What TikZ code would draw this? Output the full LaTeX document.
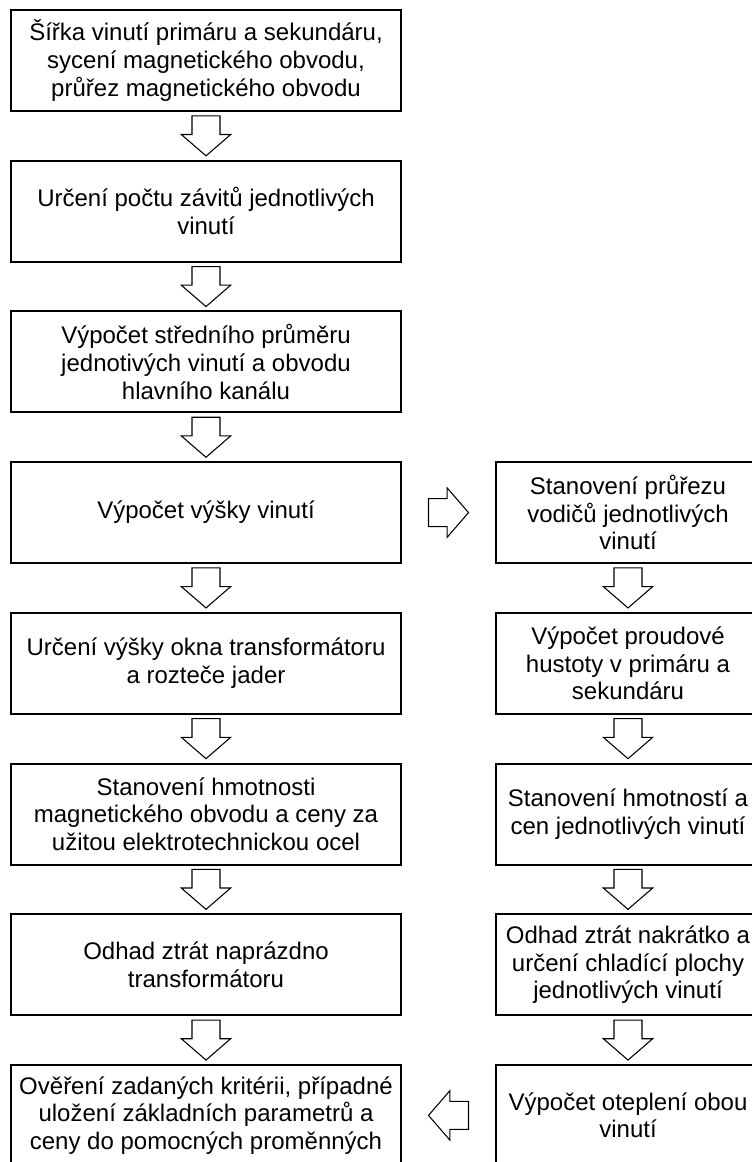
\documentclass[tikz,border=0pt]{standalone}
\usepackage{fontspec}
\setmainfont{Liberation Sans}
\usetikzlibrary{calc}

\tikzset{
  flowbox/.style={draw, line width=1.5pt, align=center, inner sep=0pt,
    minimum width=292.5pt, minimum height=75.75pt,
    font=\fontsize{18pt}{20.7pt}\selectfont},
  sidebox/.style={flowbox, minimum width=198pt},
  blockarrow/.style={draw, line width=0.8pt, fill=white, line join=miter}
}

% hollow block arrow centred between two anchors
\newcommand{\flowarrow}[2]{%
  \coordinate (fm) at ($(#1)!0.5!(#2)$);
  \coordinate (fa) at ($(fm)!15pt!(#1)$);
  \coordinate (fb) at ($(fm)!15pt!(#2)$);
  \coordinate (fh) at ($(fb)!16pt!(fa)$);
  \draw[blockarrow] ($(fa)!10.5pt!90:(fb)$) -- ($(fh)!10.5pt!90:(fb)$)
    -- ($(fh)!18.5pt!90:(fb)$) -- (fb) -- ($(fh)!18.5pt!-90:(fb)$)
    -- ($(fh)!10.5pt!-90:(fb)$) -- ($(fa)!10.5pt!-90:(fb)$) -- cycle;
}

\begin{document}
\begin{tikzpicture}[x=0.75pt,y=-0.75pt]
\useasboundingbox (0,0) rectangle (752,1162);
\foreach \txt [count=\i] in {
    {Šířka vinutí primáru a sekundáru,\\sycení magnetického obvodu,\\průřez magnetického obvodu},
    {Určení počtu závitů jednotlivých\\vinutí},
    {Výpočet středního průměru\\jednotivých vinutí a obvodu\\hlavního kanálu},
    {Výpočet výšky vinutí},
    {Určení výšky okna transformátoru\\a rozteče jader},
    {Stanovení hmotnosti\\magnetického obvodu a ceny za\\užitou elektrotechnickou ocel},
    {Odhad ztrát naprázdno\\transformátoru},
    {Ověření zadaných kritérii, případné\\uložení základních parametrů a\\ceny do pomocných proměnných}} {
    \node[flowbox] (l\i) at (206,{60.5+150.7*(\i-1)}) {\txt};
}
\foreach \txt [count=\i] in {
    {Stanovení průřezu\\vodičů jednotlivých\\vinutí},
    {Výpočet proudové\\hustoty v primáru a\\sekundáru},
    {Stanovení hmotností a\\cen jednotlivých vinutí},
    {Odhad ztrát nakrátko a\\určení chladící plochy\\jednotlivých vinutí},
    {Výpočet oteplení obou\\vinutí}} {
    \node[sidebox] (r\i) at (628,{60.5+150.7*(\i+2)}) {\txt};
}
\foreach \i [count=\j from 2] in {1,...,7} {
    \flowarrow{l\i.south}{l\j.north}
}
\foreach \i [count=\j from 2] in {1,...,4} {
    \flowarrow{r\i.south}{r\j.north}
}
\flowarrow{l4.east}{r1.west}
\flowarrow{r5.west}{l8.east}
\end{tikzpicture}
\end{document}
